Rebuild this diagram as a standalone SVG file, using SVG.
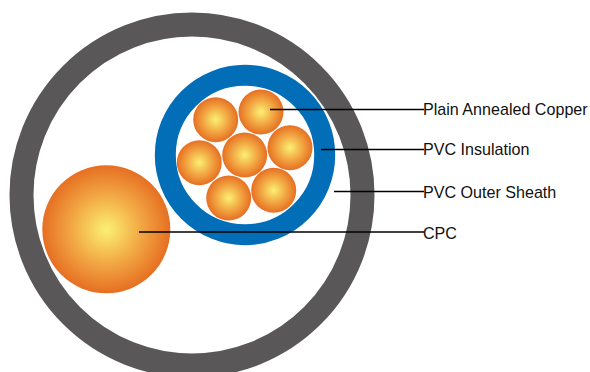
<svg xmlns="http://www.w3.org/2000/svg" width="590" height="372" viewBox="0 0 590 372">
<style>
.core{fill:url(#copper)}
.lead{stroke:#000;stroke-width:1.4;fill:none}
.label{font-family:"Liberation Sans",Arial,sans-serif;font-size:16.1px;fill:#111}
</style>
<defs>
<radialGradient id="copper" cx="0.5" cy="0.5" r="0.5">
<stop offset="0" stop-color="#fbf073"/>
<stop offset="0.5" stop-color="#f3ad47"/>
<stop offset="1" stop-color="#e66f22"/>
</radialGradient>
</defs>
<rect width="590" height="372" fill="#fff"/>
<g id="outer-sheath"><circle cx="192" cy="195" r="170.5" fill="none" stroke="#595757" stroke-width="24"/></g>
<g id="insulation"><circle cx="245" cy="155" r="79.7" fill="none" stroke="#036eb8" stroke-width="21"/></g>
<g id="conductors">
<circle class="core" cx="215.7" cy="119.7" r="22.5"/>
<circle class="core" cx="261" cy="112" r="22.5"/>
<circle class="core" cx="290" cy="147.7" r="22.5"/>
<circle class="core" cx="244.7" cy="155" r="22.5"/>
<circle class="core" cx="199.3" cy="162.7" r="22.5"/>
<circle class="core" cx="273.7" cy="190.3" r="22.5"/>
<circle class="core" cx="228.7" cy="198" r="22.5"/>
</g>
<g id="cpc"><circle class="core" cx="106.3" cy="229.3" r="64"/></g>
<g id="connectors">
<line class="lead" x1="270" y1="109.5" x2="424" y2="109.5"/>
<line class="lead" x1="321" y1="149.5" x2="424" y2="149.5"/>
<line class="lead" x1="334" y1="191.5" x2="424" y2="191.5"/>
<line class="lead" x1="139" y1="232" x2="424" y2="232"/>
</g>
<g id="labels">
<text class="label" x="423" y="115">Plain Annealed Copper</text>
<text class="label" x="423" y="155.3">PVC Insulation</text>
<text class="label" x="423" y="197.7">PVC Outer Sheath</text>
<text class="label" x="423" y="238.7">CPC</text>
</g>
</svg>
